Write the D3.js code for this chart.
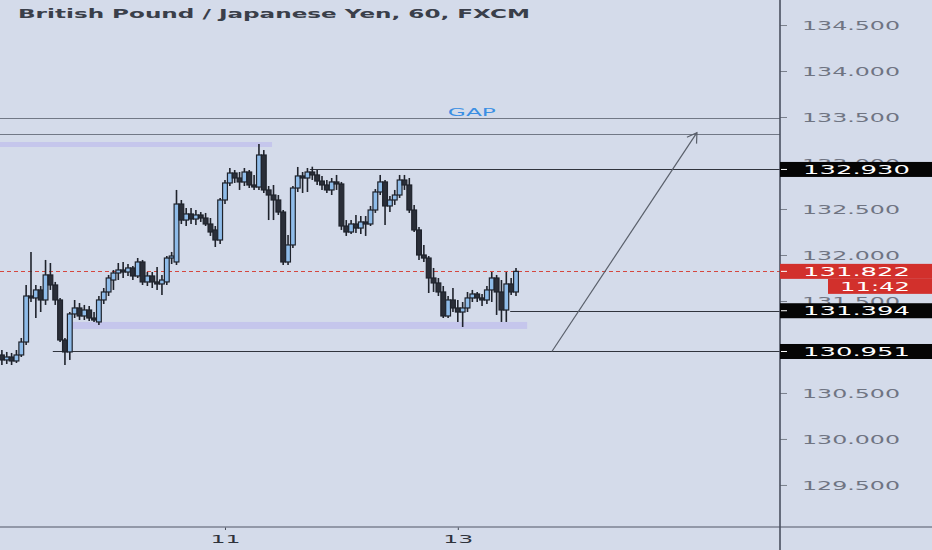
<!DOCTYPE html>
<html><head><meta charset="utf-8">
<script src="https://cdn.jsdelivr.net/npm/d3@7"></script>
<style>html,body{margin:0;padding:0;background:#d4dbea;} svg{display:block;}</style>
</head><body>
<svg id="chart" width="932" height="550"></svg>
<script>
const title = "British Pound / Japanese Yen, 60, FXCM";
const open  = [130.913,130.859,130.891,130.848,130.913,131.054,131.554,131.533,131.620,131.511,131.783,131.674,131.511,131.076,130.946,131.359,131.424,131.337,131.402,131.315,131.272,131.511,131.598,131.728,131.804,131.837,131.815,131.859,131.772,131.924,131.707,131.772,131.707,131.685,131.707,131.967,131.924,132.554,132.380,132.446,132.391,132.435,132.402,132.337,132.272,132.163,132.598,132.783,132.891,132.837,132.794,132.902,132.761,132.739,133.087,132.707,132.652,132.598,132.467,131.924,132.109,132.728,132.859,132.837,132.902,132.870,132.804,132.761,132.707,132.794,132.772,132.315,132.250,132.337,132.293,132.359,132.337,132.489,132.685,132.794,132.533,132.598,132.652,132.815,132.761,132.489,132.272,132.000,131.967,131.750,131.696,131.598,131.337,131.511,131.424,131.380,131.424,131.533,131.576,131.533,131.511,131.620,131.750,131.598,131.402,131.685,131.598];
const high  = [130.967,130.946,130.935,130.967,131.098,131.674,132.033,131.674,131.663,131.946,131.913,131.707,131.533,131.098,131.380,131.511,131.478,131.457,131.446,131.380,131.554,131.641,131.783,131.837,131.913,131.924,131.902,131.880,131.967,131.946,131.815,131.815,131.870,131.783,131.989,132.033,132.707,132.598,132.511,132.511,132.489,132.467,132.457,132.402,132.315,132.620,132.815,132.946,132.924,132.902,132.946,132.924,132.870,133.207,133.141,132.750,132.761,132.652,132.489,132.217,132.750,132.957,132.902,132.946,132.960,132.924,132.859,132.815,132.837,132.870,132.794,132.380,132.380,132.435,132.424,132.424,132.533,132.717,132.870,132.815,132.641,132.707,132.870,132.870,132.837,132.544,132.304,132.109,131.989,131.859,131.750,131.663,131.554,131.641,131.511,131.489,131.598,131.620,131.598,131.576,131.663,131.815,131.783,131.728,131.815,131.750,131.859];
const low   = [130.804,130.815,130.804,130.826,130.891,131.022,131.489,131.315,131.380,131.457,131.620,131.457,131.054,130.804,130.859,131.315,131.293,131.293,131.283,131.272,131.239,131.467,131.554,131.620,131.728,131.750,131.772,131.728,131.750,131.674,131.663,131.641,131.620,131.565,131.674,131.902,131.891,132.337,132.315,132.337,132.326,132.359,132.315,132.207,132.087,132.120,132.554,132.750,132.783,132.707,132.750,132.728,132.707,132.707,132.674,132.380,132.380,132.435,131.891,131.891,132.076,132.685,132.674,132.685,132.815,132.761,132.707,132.674,132.652,132.707,132.272,132.207,132.228,132.239,132.228,132.207,132.315,132.457,132.652,132.326,132.467,132.544,132.620,132.707,132.457,132.250,131.946,131.924,131.587,131.598,131.554,131.315,131.315,131.380,131.272,131.217,131.380,131.489,131.489,131.446,131.467,131.489,131.348,131.272,131.272,131.565,131.554];
const close = [130.859,130.891,130.848,130.913,131.054,131.554,131.533,131.620,131.511,131.783,131.674,131.511,131.076,130.946,131.359,131.424,131.337,131.402,131.315,131.293,131.511,131.598,131.750,131.804,131.837,131.815,131.859,131.772,131.924,131.707,131.772,131.707,131.685,131.728,131.967,131.989,132.554,132.380,132.446,132.391,132.435,132.402,132.337,132.250,132.163,132.598,132.783,132.891,132.837,132.794,132.902,132.761,132.739,133.087,132.707,132.652,132.598,132.467,131.924,132.109,132.728,132.859,132.837,132.902,132.870,132.804,132.761,132.707,132.794,132.772,132.315,132.250,132.337,132.293,132.359,132.337,132.489,132.685,132.794,132.533,132.598,132.652,132.815,132.761,132.489,132.272,132.000,131.967,131.750,131.696,131.598,131.337,131.511,131.424,131.380,131.424,131.533,131.576,131.533,131.511,131.620,131.750,131.598,131.402,131.685,131.598,131.822];

const xTickLabels = ["11", "13"];
const xTickIndex = [46, 94];
const priceTicks = [129.5, 130.0, 130.5, 131.5, 132.0, 132.5, 133.0, 133.5, 134.0, 134.5];
const lastPrice = 131.822;
const countdown = "11:42";
const levelPrices = [132.930, 131.394, 130.951];
const levelStart = [63.5, 104.8, 10.5];
const gapPrices = [133.49, 133.315];
const gapLabel = "GAP";
const gapLabelPos = [96.9, 133.51];
const zoneTop = {x0: -0.39, x1: 55.7, p0: 133.228, p1: 133.174};
const zoneBottom = {x0: 14.45, x1: 108.3, p0: 131.272, p1: 131.196};
const arrowFrom = [113.4, 130.951];
const arrowTo = [143.3, 133.33];

const W = 932, H = 550, plotR = 780, plotB = 527;
const svg = d3.select("#chart");
svg.append("rect").attr("width", W).attr("height", H).attr("fill", "#d4dbea");

const x = d3.scaleLinear().domain([-0.39, 160.43]).range([0, plotR]);
const y = d3.scaleLinear().domain([129.043, 134.772]).range([plotB, 0]);

const plot = svg.append("g");

// zones
[zoneTop, zoneBottom].forEach(z => {
  plot.append("rect")
    .attr("x", x(z.x0)).attr("width", x(z.x1) - x(z.x0))
    .attr("y", y(z.p0)).attr("height", y(z.p1) - y(z.p0))
    .attr("fill", "#c5c6ec");
});

// gap lines
gapPrices.forEach(p => {
  plot.append("line").attr("x1", 0).attr("x2", plotR)
    .attr("y1", Math.round(y(p)) + 0.5).attr("y2", Math.round(y(p)) + 0.5)
    .attr("stroke", "#717886").attr("stroke-width", 1);
});
plot.append("text").attr("x", x(gapLabelPos[0])).attr("y", y(gapLabelPos[1]))
  .attr("text-anchor", "middle").attr("font-family", "DejaVu Sans, sans-serif")
  .attr("font-size", 10).attr("fill", "#3b8fe3")
  .attr("textLength", 48).attr("lengthAdjust", "spacingAndGlyphs").text(gapLabel);

// level lines
levelPrices.forEach((p, i) => {
  plot.append("line").attr("x1", x(levelStart[i])).attr("x2", plotR)
    .attr("y1", Math.round(y(p)) + 0.5).attr("y2", Math.round(y(p)) + 0.5)
    .attr("stroke", "#30343d").attr("stroke-width", 1);
});

// last price dashed line
plot.append("line").attr("x1", 0).attr("x2", plotR)
  .attr("y1", Math.round(y(lastPrice)) + 0.5).attr("y2", Math.round(y(lastPrice)) + 0.5)
  .attr("stroke", "#d5473f").attr("stroke-width", 1).attr("stroke-dasharray", "4,3");

// candles
const candles = open.map((o, i) => ({i, o, h: high[i], l: low[i], c: close[i]}));
const bw = 4.8;
const cg = plot.append("g");
cg.selectAll("line.wick").data(candles).join("line")
  .attr("x1", d => x(d.i)).attr("x2", d => x(d.i))
  .attr("y1", d => y(d.h)).attr("y2", d => y(d.l))
  .attr("stroke", "#1f232c").attr("stroke-width", 1.6);
cg.selectAll("rect.body").data(candles).join("rect")
  .attr("x", d => x(d.i) - bw / 2).attr("width", bw)
  .attr("y", d => y(Math.max(d.o, d.c)))
  .attr("height", d => Math.max(1.5, Math.abs(y(d.o) - y(d.c))))
  .attr("fill", d => d.c >= d.o ? "#8fbce9" : "#2a2e38")
  .attr("stroke", "#1f232c").attr("stroke-width", 1.2);

// arrow
const ax0 = x(arrowFrom[0]), ay0 = y(arrowFrom[1]), ax1 = x(arrowTo[0]), ay1 = y(arrowTo[1]);
plot.append("line").attr("x1", ax0).attr("y1", ay0).attr("x2", ax1).attr("y2", ay1)
  .attr("stroke", "#5a606b").attr("stroke-width", 1.2);
const ang = Math.atan2(ay0 - ay1, ax0 - ax1), hl = 11, spread = 0.55;
plot.append("path")
  .attr("d", `M${ax1 + hl * Math.cos(ang - spread)},${ay1 + hl * Math.sin(ang - spread)}L${ax1},${ay1}L${ax1 + hl * Math.cos(ang + spread)},${ay1 + hl * Math.sin(ang + spread)}`)
  .attr("fill", "none").attr("stroke", "#5a606b").attr("stroke-width", 1.2);

// title
svg.append("text").attr("x", 18).attr("y", 18)
  .attr("font-family", "DejaVu Sans, sans-serif").attr("font-weight", "bold")
  .attr("font-size", 12.5).attr("fill", "#3a3f4a")
  .attr("textLength", 512).attr("lengthAdjust", "spacingAndGlyphs").text(title);

// right axis
const ra = svg.append("g").attr("transform", `translate(${plotR},0)`)
  .call(d3.axisRight(y).tickValues(priceTicks).tickFormat(d3.format(".3f")).tickSize(7).tickPadding(15));
ra.select(".domain").remove();
ra.selectAll(".tick line").attr("stroke", "#7a808c");
ra.selectAll(".tick text").attr("font-family", "DejaVu Sans, sans-serif").attr("font-size", 13)
  .attr("fill", "#6f7482").attr("textLength", 98).attr("lengthAdjust", "spacingAndGlyphs");

// bottom axis
const ba = svg.append("g").attr("transform", `translate(0,${plotB})`)
  .call(d3.axisBottom(x).tickValues(xTickIndex).tickFormat((d, i) => xTickLabels[i]).tickSize(3).tickPadding(6));
ba.select(".domain").remove();
ba.selectAll(".tick line").attr("stroke", "#444a55");
ba.selectAll(".tick text").attr("font-family", "DejaVu Sans, sans-serif").attr("font-size", 10.5)
  .attr("fill", "#2f333c").attr("textLength", 30).attr("lengthAdjust", "spacingAndGlyphs");

svg.append("line").attr("x1", 0).attr("x2", W).attr("y1", plotB).attr("y2", plotB)
  .attr("stroke", "#7c8292").attr("stroke-width", 1.6);
svg.append("line").attr("x1", plotR).attr("x2", plotR).attr("y1", 0).attr("y2", H)
  .attr("stroke", "#4a5060").attr("stroke-width", 1.6);

// price boxes
function priceBox(label, fill, x0, yc, tx) {
  const g = svg.append("g");
  g.append("rect").attr("x", x0).attr("y", yc - 7.5).attr("width", W - x0).attr("height", 15).attr("fill", fill);
  if (x0 === plotR) g.append("line").attr("x1", plotR + 1).attr("x2", plotR + 7).attr("y1", yc).attr("y2", yc).attr("stroke", "#ffffff");
  g.append("text").attr("x", tx).attr("y", yc).attr("dy", "0.36em")
    .attr("font-family", "DejaVu Sans, sans-serif").attr("font-size", 12.5).attr("fill", "#ffffff")
    .attr("textLength", 910 - tx).attr("lengthAdjust", "spacingAndGlyphs").text(label);
}
levelPrices.forEach(p => priceBox(d3.format(".3f")(p), "#050505", plotR, y(p), 803));
priceBox(d3.format(".3f")(lastPrice), "#d2302c", plotR, y(lastPrice), 803);
priceBox(countdown, "#d2302c", 828, y(lastPrice) + 15, 840);
</script>
</body></html>
